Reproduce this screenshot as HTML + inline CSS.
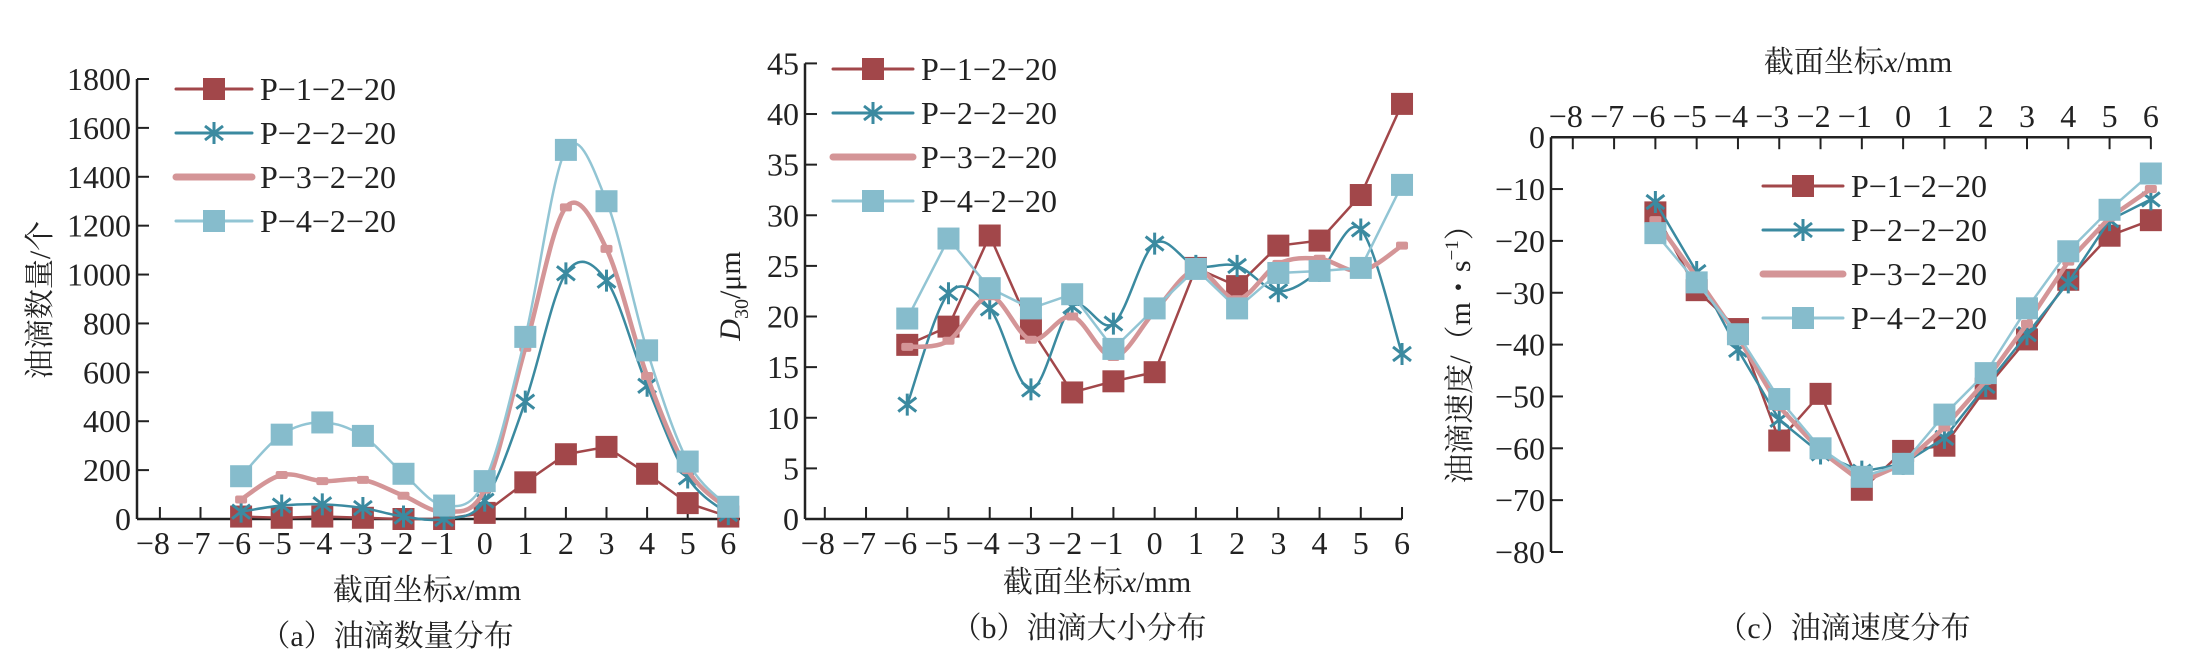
<!DOCTYPE html>
<html><head><meta charset="utf-8"><title>Oil droplet distribution charts</title>
<style>
html,body{margin:0;padding:0;background:#fff;}
svg{display:block;font-family:"Liberation Serif","Noto Serif CJK SC",serif;}
</style></head>
<body>
<svg id="chart" width="2185" height="672" viewBox="0 0 2185 672" xmlns="http://www.w3.org/2000/svg"></svg>
<script>
// ---- data ----
const xCats = [-6,-5,-4,-3,-2,-1,0,1,2,3,4,5,6];
const xTickLabels = [-8,-7,-6,-5,-4,-3,-2,-1,0,1,2,3,4,5,6];
const seriesNames = ["P\u22121\u22122\u221220","P\u22122\u22122\u221220","P\u22123\u22122\u221220","P\u22124\u22122\u221220"];
// panel a: count
const countP1 = [10,5,10,5,0,0,25,150,265,295,185,65,10];
const countP2 = [30,55,60,45,10,0,75,480,1005,975,545,170,20];
const countP3 = [80,180,155,160,95,30,120,700,1275,1105,585,200,40];
const countP4 = [175,345,395,340,185,55,155,745,1510,1300,690,235,50];
const countTicks = [0,200,400,600,800,1000,1200,1400,1600,1800];
// panel b: size D30
const sizeP1 = [17.2,19,28,18.8,12.5,13.6,14.5,24.8,23,27,27.5,32,41];
const sizeP2 = [11.3,22.3,20.8,12.8,21,19.3,27.2,25,25,22.5,24.5,28.6,16.3];
const sizeP3 = [17,17.6,22,17.7,20,16,20.5,24.6,21.7,25.2,25.7,24.5,27];
const sizeP4 = [19.8,27.7,22.8,20.8,22.2,16.8,20.8,24.7,20.8,24.3,24.5,24.8,33];
const sizeTicks = [0,5,10,15,20,25,30,35,40,45];
// panel c: velocity
const velP1 = [-14.5,-29.5,-37,-58.5,-49.5,-68,-60.5,-59.5,-48.5,-39,-27.5,-19,-16];
const velP2 = [-12.5,-26,-41,-54.5,-61,-64.5,-63,-58,-48,-38,-28,-16,-12];
const velP3 = [-16,-27,-38.5,-52,-60.5,-66.5,-63,-56,-47,-36,-24,-15.5,-10];
const velP4 = [-18.5,-28,-38,-50.5,-60,-65.5,-63,-53.5,-45.5,-33,-22,-14,-7];
const velTicks = [0,-10,-20,-30,-40,-50,-60,-70,-80];

const C1="#a2474a", C2="#3b8aa0", C3="#d49597", C4="#86bccc", C4L="#92c5d4";
const NS="http://www.w3.org/2000/svg";
const svg=document.getElementById('chart');
function mk(tag,attrs,parent){const e=document.createElementNS(NS,tag);for(const k in attrs)e.setAttribute(k,attrs[k]);(parent||svg).appendChild(e);return e;}
function fmt(v){return v<0?"\u2212"+Math.abs(v):String(v);}

function smoothPath(pts){
  let d="M"+pts[0][0]+","+pts[0][1];
  for(let i=0;i<pts.length-1;i++){
    const p0=pts[i-1]||pts[i],p1=pts[i],p2=pts[i+1],p3=pts[i+2]||p2;
    const t=1/6;
    d+=" C"+(p1[0]+(p2[0]-p0[0])*t)+","+(p1[1]+(p2[1]-p0[1])*t)+" "+(p2[0]-(p3[0]-p1[0])*t)+","+(p2[1]-(p3[1]-p1[1])*t)+" "+p2[0]+","+p2[1];
  }
  return d;
}
function linePath(pts){return pts.map((p,i)=>(i?"L":"M")+p[0]+","+p[1]).join(" ");}

function marker(g,type,x,y,color){
  if(type==="sq"){
    const r=mk('rect',{x:x-11,y:y-11,width:22,height:22,fill:color},g);
    
    
  }else if(type==="star"){
    const s=mk('path',{d:`M${x},${y-11}L${x},${y+11}M${x-9},${y-7}L${x+9},${y+7}M${x-9},${y+7}L${x+9},${y-7}`,stroke:color,'stroke-width':3,fill:'none'},g);
    
    
  }else if(type==="dot"){
    const r=mk('rect',{x:x-6,y:y-4,width:12,height:8,fill:color,rx:2},g);
    
    
  }
}

function drawPanel(p){
  const g=mk('g',{});
  
  
  const X=v=>p.x0+p.step*v;
  const Y=v=>p.yZero-v*p.yScale;
  const axisY = Y(0);
  const ax=mk('line',{x1:p.axisX,y1:Y(p.yMax),x2:p.axisX,y2:Y(p.yMin),stroke:'#222','stroke-width':2.5},g);
  
  
  const xl=mk('line',{x1:p.axisX,y1:axisY,x2:p.xEnd,y2:axisY,stroke:'#222','stroke-width':2.5},g);
  
  
  p.yTicks.forEach(v=>{
    const yy=Y(v);
    const t=mk('line',{x1:p.axisX,y1:yy,x2:p.axisX+12,y2:yy,stroke:'#222','stroke-width':2},g);
    
    
    const l=mk('text',{x:p.axisX-6,y:yy+11,'font-size':32,'text-anchor':'end',fill:'#222'},g);
    l.textContent=fmt(v);
    
    
  });
  xTickLabels.forEach(v=>{
    const xx=X(v);
    const dir=p.top?1:-1;
    const t=mk('line',{x1:xx,y1:axisY,x2:xx,y2:axisY+dir*12,stroke:'#222','stroke-width':2},g);
    
    
    const l=mk('text',{x:xx-(v<0?7:0),y:p.top?axisY-10:axisY+35,'font-size':32,'text-anchor':'middle',fill:'#222'},g);
    l.textContent=fmt(v);
    
    
  });
  const defs=[
    {vals:p.s[0],color:C1,lw:2.5,mk:'sq',mc:C1,smooth:false},
    {vals:p.s[1],color:C2,lw:2.5,mk:'star',mc:C2,smooth:p.smooth[1]},
    {vals:p.s[2],color:C3,lw:4.5,mk:'dot',mc:C3,smooth:p.smooth[2]},
    {vals:p.s[3],color:C4L,lw:2.5,mk:'sq',mc:C4,smooth:p.smooth[3]}
  ];
  defs.forEach((d,i)=>{
    const sg=mk('g',{},g);
    
    
    const pts=xCats.map((c,j)=>[X(c),Y(d.vals[j])]);
    const path=mk('path',{d:d.smooth?smoothPath(pts):linePath(pts),stroke:d.color,'stroke-width':d.lw,fill:'none'},sg);
    
    
    pts.forEach(pt=>marker(sg,d.mk,pt[0],pt[1],d.mc));
  });
  const lg=mk('g',{},g);
  
  
  defs.forEach((d,i)=>{
    const yy=p.leg.y+i*p.leg.dy;
    const e=mk('g',{},lg);
    
    
    mk('line',{x1:p.leg.x1,y1:yy,x2:p.leg.x2,y2:yy,stroke:d.color,'stroke-width':i===2?7:3,'stroke-linecap':'round'},e);
    if(i!==2) marker(e,d.mk,(p.leg.x1+p.leg.x2)/2,yy,d.mc);
    const t=mk('text',{x:p.leg.x2+8,y:yy+11,'font-size':32,fill:'#222'},e);
    t.textContent=seriesNames[i];
  });
  const xt=mk('text',{x:p.xTitle[0],y:p.xTitle[1],'font-size':30,'text-anchor':'middle',fill:'#222'},g);
  xt.innerHTML='截面坐标<tspan font-style="italic">x</tspan>/mm';
  
  
  const yt=mk('text',{x:0,y:0,'font-size':30,'text-anchor':'middle',fill:'#222',transform:`translate(${p.yTitle[0]},${p.yTitle[1]}) rotate(-90)`},g);
  yt.innerHTML=p.yTitleHTML;
  
  
  const cap=mk('text',{x:p.cap[0],y:p.cap[1],'font-size':30,'text-anchor':'middle',fill:'#222'},g);
  cap.textContent=p.capText;
  
  
}

drawPanel({name:'panel-a-count',axisX:137,x0:484.7,step:40.6,xEnd:740,yZero:519,yMin:0,yMax:1800,yScale:(519-79)/1800,
  yTicks:countTicks,s:[countP1,countP2,countP3,countP4],smooth:[false,true,true,true],
  leg:{x1:176,x2:252,y:89,dy:44},xTitle:[427,600],yTitle:[50,300],yTitleHTML:'油滴数量/个',cap:[387,646],capText:'（a）油滴数量分布'});
drawPanel({name:'panel-b-size',axisX:805,x0:824.8+8*41.23,step:41.23,xEnd:1402,yZero:519,yMin:0,yMax:45,yScale:(519-63.4)/45,
  yTicks:sizeTicks,s:[sizeP1,sizeP2,sizeP3,sizeP4],smooth:[false,true,true,false],
  leg:{x1:833,x2:913,y:69,dy:44},xTitle:[1097,592],yTitle:[740,296],yTitleHTML:'<tspan font-style="italic">D</tspan><tspan font-size="20" dy="8">30</tspan><tspan dy="-8">/μm</tspan>',cap:[1079,638],capText:'（b）油滴大小分布'});
drawPanel({name:'panel-c-velocity',top:true,axisX:1551,x0:1572.8+8*41.29,step:41.29,xEnd:2151,yZero:137.2,yMin:-80,yMax:0,yScale:(552-137.2)/80,
  yTicks:velTicks,s:[velP1,velP2,velP3,velP4],smooth:[false,false,false,false],
  leg:{x1:1763,x2:1843,y:186,dy:44},xTitle:[1858,72],yTitle:[1470,347],yTitleHTML:'油滴速度/（m・s<tspan font-size="19" dy="-12">−1</tspan><tspan dy="12">）</tspan>',cap:[1844,638],capText:'（c）油滴速度分布'});
</script>
</body></html>
